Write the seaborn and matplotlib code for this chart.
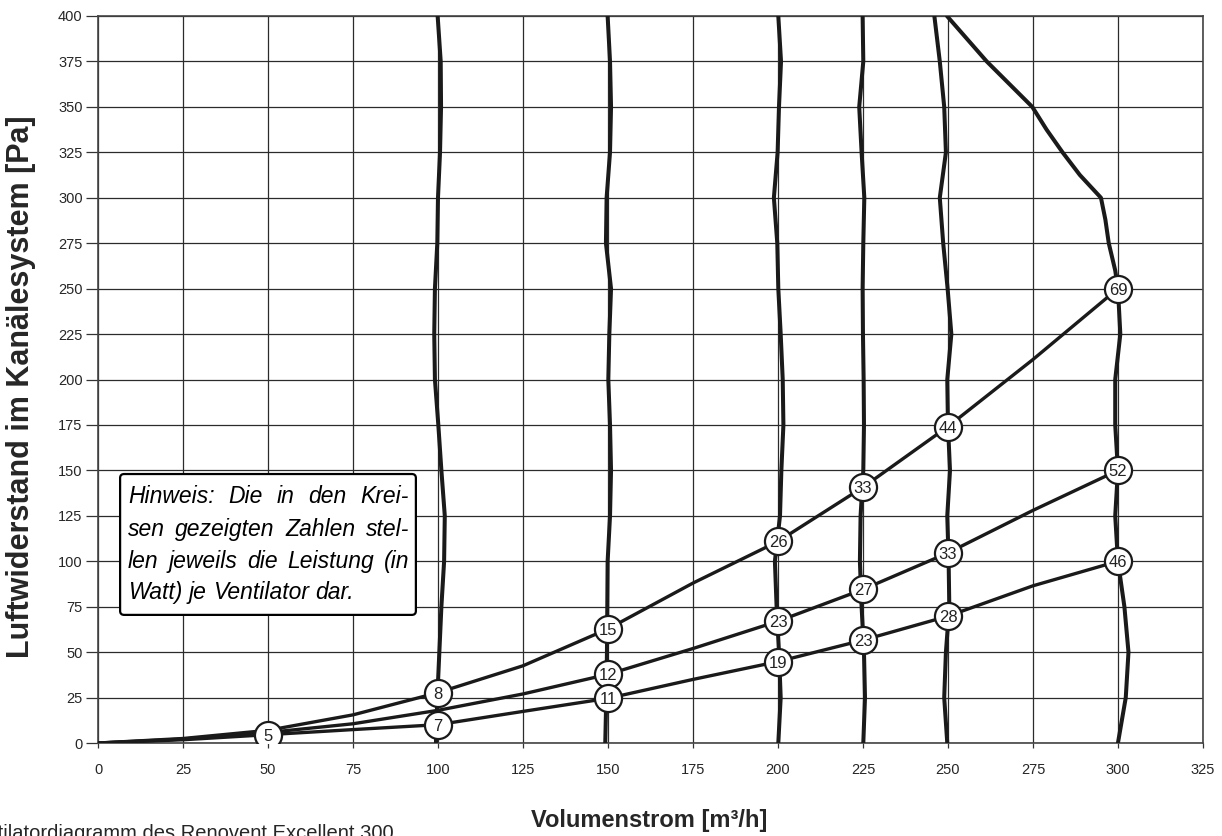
import matplotlib
matplotlib.use("Agg")
import matplotlib.pyplot as plt
import matplotlib.patches as mpatches
import numpy as np
import pandas as pd
import seaborn as sns

fan_pressure = [0, 25, 50, 75, 100, 125, 150, 175, 200, 225, 250, 275, 300, 325, 350, 375, 400]
fan_100 = [99.4, 99.8, 100.4, 101.0, 101.8, 102.0, 101.0, 100.1, 99.1, 98.9, 99.1, 99.8, 100.0, 100.6, 100.9, 100.8, 99.9]
fan_150 = [149.2, 149.5, 149.7, 149.8, 149.9, 150.6, 150.9, 150.6, 150.1, 150.4, 150.9, 149.4, 149.6, 150.6, 150.9, 150.6, 149.9]
fan_200 = [200.1, 200.8, 200.3, 199.6, 199.1, 200.6, 201.0, 201.6, 201.4, 200.8, 200.1, 199.8, 198.8, 199.9, 200.3, 200.9, 200.1]
fan_225 = [225.1, 225.6, 225.3, 224.6, 224.1, 224.3, 225.1, 225.3, 225.2, 225.0, 224.9, 225.1, 225.4, 224.6, 223.9, 225.1, 224.9]
fan_250 = [249.8, 248.9, 249.4, 250.4, 250.2, 249.8, 250.6, 250.0, 249.8, 251.0, 249.9, 248.6, 247.6, 249.4, 248.9, 247.6, 246.0]

# maximum curve (flow, pressure)
max_flow = [300.0, 302.3, 303.1, 301.9, 300.0, 299.2, 300.0, 299.2, 299.2, 300.7, 300.0, 299.2, 297.3, 296.3,
            295.0, 288.8, 283.7, 279.0, 274.8, 261.4, 249.7]
max_pressure = [0, 25, 50, 75, 100, 125, 150, 175, 200, 225, 250, 260, 275, 288, 300, 312.5, 325, 337.5, 350,
                375, 400]

# system curves
sys_flow = [0, 25, 50, 75, 100, 125, 150, 175, 200, 225, 250, 275, 300]
sys_upper = [0, 2.5, 7.0, 15.5, 27.7, 42.5, 62.8, 88.0, 110.9, 140.7, 174.1, 211.0, 250.0]
sys_middle = [0, 2.2, 5.8, 10.6, 18.0, 27.0, 37.8, 52.0, 67.0, 84.5, 104.6, 128.0, 150.0]
sys_lower = [0, 1.8, 4.6, 7.4, 10.1, 17.4, 24.6, 35.0, 44.8, 56.6, 69.8, 86.5, 100.0]

# power labels (W) in the circles
circle_flow = [50, 100, 100, 150, 150, 150, 200, 200, 200, 225, 225, 225, 250, 250, 250, 300, 300, 300]
circle_pressure = [4.6, 27.7, 10.1, 62.8, 37.8, 24.6, 110.9, 67.0, 44.8, 140.7, 84.5, 56.6, 174.1, 104.6, 69.8,
                   250.0, 150.0, 100.0]
circle_watt = ["5", "8", "7", "15", "12", "11", "26", "23", "19", "33", "27", "23", "44", "33", "28", "69", "52", "46"]

x_ticks = list(range(0, 326, 25))
y_ticks = list(range(0, 401, 25))

note_lines = ["Hinweis: Die in den Krei-",
              "sen gezeigten Zahlen stel-",
              "len jeweils die Leistung (in",
              "Watt) je Ventilator dar."]

sns.set_theme(style="white")
plt.rcParams["font.family"] = ["Liberation Sans", "DejaVu Sans"]

fig = plt.figure(figsize=(12.22, 8.36), dpi=100)
ax = fig.add_axes([0.0802, 0.1112, 0.9042, 0.8697])

line_col = "#1a1a1a"

fans = pd.concat([
    pd.DataFrame({"flow": f, "pressure": fan_pressure, "curve": name})
    for name, f in [("100", fan_100), ("150", fan_150), ("200", fan_200), ("225", fan_225), ("250", fan_250)]
] + [pd.DataFrame({"flow": max_flow, "pressure": max_pressure, "curve": "max"})])

sns.lineplot(data=fans, x="flow", y="pressure", units="curve", estimator=None, sort=False,
             color=line_col, lw=2.9, ax=ax, zorder=3)

systems = pd.concat([
    pd.DataFrame({"flow": sys_flow, "pressure": p, "curve": name})
    for name, p in [("upper", sys_upper), ("middle", sys_middle), ("lower", sys_lower)]
])
sns.lineplot(data=systems, x="flow", y="pressure", units="curve", estimator=None, sort=False,
             color=line_col, lw=2.4, ax=ax, zorder=3)

sns.scatterplot(x=circle_flow, y=circle_pressure, s=380, color="white", edgecolor=line_col,
                linewidth=1.6, ax=ax, zorder=5)
for fx, py, w in zip(circle_flow, circle_pressure, circle_watt):
    ax.text(fx, py, w, ha="center", va="center_baseline", fontsize=12, color="#222222", zorder=6)

ax.set_xlim(0, 325)
ax.set_ylim(0, 400)
ax.set_xticks(x_ticks)
ax.set_yticks(y_ticks)
ax.grid(True, color="#2b2b2b", lw=0.9)
ax.set_axisbelow(True)
for s in ax.spines.values():
    s.set_color("#444444")
    s.set_linewidth(1.2)
ax.tick_params(axis="y", direction="out", length=9, width=0.9, color="#333333", pad=2, labelsize=10.5,
               left=True)
ax.tick_params(axis="x", direction="out", length=3.5, width=0.9, color="#333333", pad=11, labelsize=10.5,
               bottom=True)
ax.set_xlabel("")
ax.set_ylabel("")

# note box with justified italic text
box = mpatches.FancyBboxPatch((6.5, 70.5), 87, 77.5, boxstyle="round,pad=0,rounding_size=1.2",
                              facecolor="white", edgecolor="black", lw=1.6, zorder=4,
                              mutation_aspect=1.8)
ax.add_patch(box)

renderer = fig.canvas.get_renderer()
left_px = ax.transData.transform((8.8, 0))[0]
right_px = ax.transData.transform((91.5, 0))[0]
baselines = [132.0, 113.8, 96.5, 79.5]
for i, (line, yb) in enumerate(zip(note_lines, baselines)):
    words = line.split(" ")
    texts = [ax.text(0, yb, w, ha="left", va="baseline", fontsize=16.5, style="italic",
                     color="black", zorder=5) for w in words]
    widths = [t.get_window_extent(renderer).width for t in texts]
    if i < len(note_lines) - 1:
        gap = (right_px - left_px - sum(widths)) / (len(words) - 1)
    else:
        gap = texts[0].get_fontsize() * 0.278 * 100 / 72
    xpos = left_px
    for t, wdt in zip(texts, widths):
        xd = ax.transData.inverted().transform((xpos, 0))[0]
        t.set_x(xd)
        xpos += wdt + gap

fig.text(0.531, 0.005, "Volumenstrom [m³/h]", ha="center", va="bottom", fontsize=17, fontweight="bold")
fig.text(0.017, 0.538, "Luftwiderstand im Kanälesystem [Pa]", ha="center", va="center", rotation=90,
         fontsize=22, fontweight="bold")
fig.text(-0.03, -0.004, "Ventilatordiagramm des Renovent Excellent 300", ha="left", va="baseline",
         fontsize=14.5)

fig.savefig("out.png", dpi=100)
